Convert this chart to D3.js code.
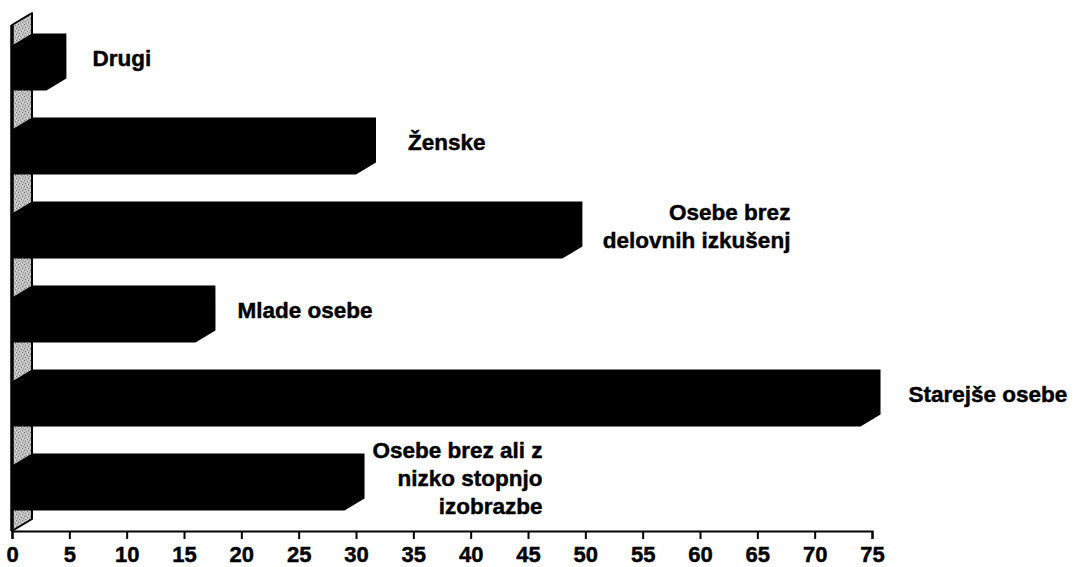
<!DOCTYPE html>
<html>
<head>
<meta charset="utf-8">
<script src="https://cdn.jsdelivr.net/npm/d3@7"></script>
<style>
  body { margin: 0; background: #fff; }
  text { font-family: "Liberation Sans", Arial, sans-serif; font-weight: bold; fill: #000; stroke: #000; stroke-width: 0.45px; }
</style>
</head>
<body>
<div id="chart"></div>
<script>
// Data
const categories = ["Drugi", "Ženske", "Osebe brez delovnih izkušenj", "Mlade osebe", "Starejše osebe", "Osebe brez ali z nizko stopnjo izobrazbe"];
const values = [3, 30, 48, 16, 74, 29];
const labelLines = [
    ["Drugi"],
    ["Ženske"],
    ["Osebe brez", "delovnih izkušenj"],
    ["Mlade osebe"],
    ["Starejše osebe"],
    ["Osebe brez ali z", "nizko stopnjo", "izobrazbe"]
];
const tickValues = [0, 5, 10, 15, 20, 25, 30, 35, 40, 45, 50, 55, 60, 65, 70, 75];

// Label placement (px from bar end, hand-placed in the original)
const labelGap = [26, 32, 208, 22, 28, 178];
const labelAnchor = ["start", "start", "end", "start", "start", "end"];

const width = 1079, height = 567;
const depth = {dx: 20, dy: 12};
const plot = {top: 25, bottom: 531, left: 12, right: 872};

const svg = d3.select("#chart")
    .append("svg")
    .attr("width", width)
    .attr("height", height);

// Stippled pattern for the back wall
const pat = svg.append("defs").append("pattern")
    .attr("id", "stipple")
    .attr("width", 6).attr("height", 6)
    .attr("patternUnits", "userSpaceOnUse");
pat.append("rect").attr("width", 6).attr("height", 6).attr("fill", "#c2c2c2");
[[0, 0, "#6a6a6a"], [3, 1, "#7a7a7a"], [1, 3, "#808080"], [4, 4, "#6e6e6e"], [2, 5, "#9a9a9a"], [5, 2, "#999"], [4, 0, "#e0e0e0"], [1, 1, "#dcdcdc"], [3, 4, "#e4e4e4"]].forEach(p => {
    pat.append("rect").attr("x", p[0]).attr("y", p[1]).attr("width", 1).attr("height", 1).attr("fill", p[2]);
});

// Scales
const xScale = d3.scaleLinear()
    .domain([0, 75])
    .range([plot.left, plot.right]);

const yScale = d3.scaleBand()
    .domain(categories)
    .range([plot.top, plot.bottom])
    .paddingInner(0.464)
    .paddingOuter(0.244);

// Back wall
const x0 = xScale(0);
svg.append("polygon")
    .attr("points", [
        [x0, plot.top],
        [x0 + depth.dx, plot.top - depth.dy],
        [x0 + depth.dx, plot.bottom - depth.dy],
        [x0, plot.bottom]
    ].map(p => p.join(",")).join(" "))
    .attr("fill", "url(#stipple)")
    .attr("stroke", "#000")
    .attr("stroke-width", 2)
    .attr("stroke-linejoin", "round");

svg.append("line")
    .attr("x1", x0).attr("x2", x0)
    .attr("y1", plot.top).attr("y2", plot.bottom)
    .attr("stroke", "#000")
    .attr("stroke-width", 3.5);

// 3D bars (silhouette of a prism)
const bw = yScale.bandwidth();
svg.selectAll(".bar")
    .data(categories)
    .enter()
    .append("polygon")
    .attr("class", "bar")
    .attr("points", (d, i) => {
        const yt = yScale(d), yb = yt + bw, xv = xScale(values[i]);
        return [
            [x0, yt],
            [x0 + depth.dx, yt - depth.dy],
            [xv + depth.dx, yt - depth.dy],
            [xv + depth.dx, yb - depth.dy],
            [xv, yb],
            [x0, yb]
        ].map(p => p.join(",")).join(" ");
    })
    .attr("fill", "#000");

// Axis
const xAxis = d3.axisBottom(xScale)
    .tickValues(tickValues)
    .tickSize(8)
    .tickPadding(7);

const axisG = svg.append("g")
    .attr("transform", `translate(0,${plot.bottom})`)
    .call(xAxis);
axisG.select(".domain").attr("stroke", "#000").attr("stroke-width", 2);
axisG.selectAll(".tick line").attr("stroke", "#000").attr("stroke-width", 2);
axisG.selectAll(".tick text")
    .style("font-family", "'Liberation Sans', Arial, sans-serif")
    .style("font-weight", "bold")
    .style("font-size", "22px")
    .attr("fill", "#000");

// Labels
const lineH = 28;
const labels = svg.selectAll(".label")
    .data(categories)
    .enter()
    .append("text")
    .attr("class", "label")
    .attr("text-anchor", (d, i) => labelAnchor[i])
    .style("font-size", "22.5px");

labels.each(function(d, i) {
    const lines = labelLines[i];
    const cy = yScale(d) + bw / 2 - depth.dy / 2;
    const xPos = xScale(values[i]) + depth.dx + labelGap[i];
    const firstBase = cy + 4 - (lines.length - 1) * lineH / 2;
    d3.select(this).selectAll("tspan")
        .data(lines)
        .enter()
        .append("tspan")
        .attr("x", xPos)
        .attr("y", (l, j) => firstBase + j * lineH)
        .text(l => l);
});
</script>
</body>
</html>
